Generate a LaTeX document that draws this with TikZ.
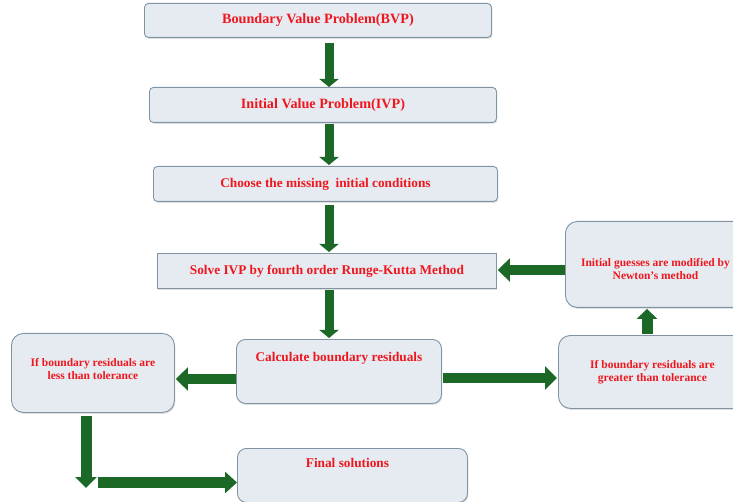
\documentclass[tikz,border=0pt]{standalone}
\usepackage{fontspec}
\setmainfont{Liberation Serif}
\usetikzlibrary{arrows.meta,shadows}
\definecolor{boxfill}{RGB}{230,235,241}
\definecolor{boxline}{RGB}{128,148,164}
\definecolor{txtred}{RGB}{240,22,30}
\definecolor{agreen}{RGB}{28,104,38}
\begin{document}
\begin{tikzpicture}[x=1pt,y=-1pt,
  box/.style={draw=boxline, line width=0.9pt, fill=boxfill, rounded corners=#1,
    anchor=north west, inner sep=0pt, align=center, text=txtred,
    drop shadow={opacity=0.25, shadow xshift=1pt, shadow yshift=-1.5pt}},
  box/.default=4pt,
  lbl/.style={text=txtred, align=center, inner sep=0pt},
  big/.style={font=\fontsize{14.2}{16}\selectfont\bfseries},
  mid/.style={font=\fontsize{13.3}{15}\selectfont\bfseries},
  small/.style={font=\fontsize{11.5}{13}\selectfont\bfseries},
  blkv/.style={draw=agreen, line width=9pt, -{Triangle[width=19pt,length=8pt]}},
  blkh/.style={draw=agreen, line width=10pt, -{Triangle[width=23pt,length=12pt]}}]
\useasboundingbox (0,0) rectangle (733,502);
\clip (0,0) rectangle (733,502);

\node[box, big, minimum width=347pt, minimum height=34pt] (bvp) at (144,3) {Boundary Value Problem(BVP)};
\node[box, big, minimum width=347pt, minimum height=35pt] (ivp) at (149,87) {Initial Value Problem(IVP)};
\node[box, mid, minimum width=344pt, minimum height=35pt] (choose) at (153,166) {Choose the missing\ \ initial conditions};
\node[box=0pt, mid, minimum width=339pt, minimum height=35pt] (rk) at (157,253) {Solve IVP by fourth order Runge-Kutta Method};
\node[box=12pt, minimum width=180pt, minimum height=86pt] (newton) at (565,221) {};
\node[lbl, small] at ([yshift=-5pt]newton.center) {Initial guesses are modified by\\Newton's method};
\node[box=9pt, minimum width=205pt, minimum height=64pt] (calc) at (236,339) {};
\node[lbl, mid] at ([yshift=-19pt]calc.north) {Calculate boundary residuals};
\node[box=12pt, minimum width=163pt, minimum height=79pt] (less) at (11,333) {};
\node[lbl, small] at ([yshift=4pt]less.center) {If boundary residuals are\\less than tolerance};
\node[box=12pt, small, minimum width=188pt, minimum height=73pt] (gt) at (558,335) {If boundary residuals are\\greater than tolerance};
\node[box=9pt, minimum width=230pt, minimum height=54pt] (final) at (237,448) {};
\node[lbl, mid] at ([xshift=-5pt,yshift=-15pt]final.north) {Final solutions};

\coordinate (ax) at (329,0);
\coordinate (r379) at (0,379);
\coordinate (r378) at (0,378);
\coordinate (r270) at (0,270);
\coordinate (c647) at (647,0);
\coordinate (downend) at (86,488);
\coordinate (rightstart) at (98,482.5);

\draw[blkv] ([yshift=-5pt]bvp.south -| ax) -- (ivp.north -| ax);
\draw[blkv] ([yshift=-1pt]ivp.south -| ax) -- ([yshift=1pt]choose.north -| ax);
\draw[blkv] ([yshift=-3pt]choose.south -| ax) -- ([yshift=1pt]rk.north -| ax);
\draw[blkv] ([yshift=-1pt]rk.south -| ax) -- ([yshift=1pt]calc.north -| ax);
\draw[blkh] (calc.west |- r379) -- ([xshift=1pt]less.east |- r379);
\draw[blkh] ([xshift=1pt]calc.east |- r378) -- ([xshift=-1pt]gt.west |- r378);
\draw[blkv, line width=11pt, -{Triangle[width=20pt,length=10pt]}] ([yshift=1pt]gt.north -| c647) -- ([yshift=-1pt]newton.south -| c647);
\draw[blkh] (newton.west |- r270) -- ([xshift=1pt]rk.east |- r270);
\draw[blkv, line width=11pt, -{Triangle[width=21pt,length=11pt]}] ([yshift=-3pt]less.south -| downend) -- (downend);
\draw[blkh, line width=11pt, -{Triangle[width=21pt,length=12pt]}] (rightstart) -- (final.west |- rightstart);
\end{tikzpicture}
\end{document}
